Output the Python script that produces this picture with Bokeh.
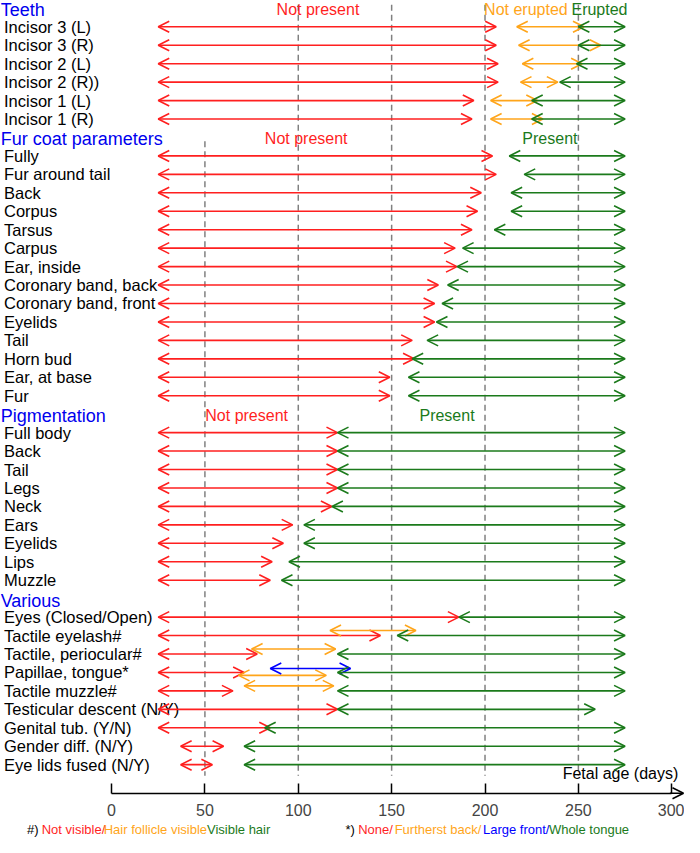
from bokeh.plotting import figure
from bokeh.models import ColumnDataSource, Range1d, LinearAxis, FixedTicker, Arrow, OpenHead
from bokeh.core.properties import value
from bokeh.embed import file_html
from bokeh.resources import INLINE

FONT = "Liberation Sans"
RED = "#ff1f1f"
ORANGE = "#ffa51a"
GREEN = "#1b7a1b"
BLUE = "#0000ff"
HEAD_BLUE = "#0000ee"

# ---------------- data ----------------
section_titles = ["Teeth", "Fur coat parameters", "Pigmentation", "Various"]

teeth_labels = ["Incisor 3 (L)", "Incisor 3 (R)", "Incisor 2 (L)", "Incisor 2 (R))",
                "Incisor 1 (L)", "Incisor 1 (R)"]
fur_labels = ["Fully", "Fur around tail", "Back", "Corpus", "Tarsus", "Carpus", "Ear, inside",
              "Coronary band, back", "Coronary band, front", "Eyelids", "Tail", "Horn bud",
              "Ear, at base", "Fur"]
pig_labels = ["Full body", "Back", "Tail", "Legs", "Neck", "Ears", "Eyelids", "Lips", "Muzzle"]
various_labels = ["Eyes (Closed/Open)", "Tactile eyelash#", "Tactile, periocular#",
                  "Papillae, tongue*", "Tactile muzzle#", "Testicular descent (N/Y)",
                  "Genital tub. (Y/N)", "Gender diff. (N/Y)", "Eye lids fused (N/Y)"]

# red = not present / not visible (fetal age, days)
teeth_red_start = [25, 25, 25, 25, 25, 25]
teeth_red_end = [206, 206, 207, 207, 194, 193]
fur_red_start = [25, 25, 25, 25, 25, 25, 25, 25, 25, 25, 25, 25, 25, 25]
fur_red_end = [204, 206, 198, 196, 193, 184, 185, 175, 173, 173, 161, 162, 149, 149]
pig_red_start = [25, 25, 25, 25, 25, 25, 25, 25, 25]
pig_red_end = [121, 121, 121, 121, 118, 97, 92, 86, 85]
various_red_start = [25, 25, 25, 25, 25, 25, 25, 37, 37]
various_red_end = [186, 144, 78, 71, 65, 121, 85, 60, 54]

# green = present / erupted / visible
teeth_green_start = [250, 250, 249, 240, 225, 225]
teeth_green_end = [275, 275, 275, 275, 275, 275]
fur_green_start = [213, 221, 214, 214, 205, 188, 185, 180, 177, 174, 169, 161, 159, 159]
fur_green_end = [275, 275, 275, 275, 275, 275, 275, 275, 275, 275, 275, 275, 275, 275]
pig_green_start = [121, 121, 121, 121, 118, 103, 103, 95, 91]
pig_green_end = [275, 275, 275, 275, 275, 275, 275, 275, 275]
various_green_start = [186, 153, 121, 121, 121, 121, 82, 71, 71]
various_green_end = [275, 275, 275, 275, 275, 259, 275, 275, 275]

# orange = not erupted / hair follicle visible / furthest back
teeth_orange_item = [0, 1, 2, 3, 4, 5]
teeth_orange_start = [217, 218, 220, 219, 203, 203]
teeth_orange_end = [253, 262, 252, 239, 228, 231]
various_orange_item = [1, 2, 3, 4]
various_orange_start = [117, 75, 68, 71]
various_orange_end = [163, 120, 115, 119]

# blue = large front (papillae)
various_blue_item = [3]
various_blue_start = [85]
various_blue_end = [128]

# header annotations
annot_section = [0, 0, 0, 1, 1, 2, 2]
annot_text = ["Not present", "Not erupted", "Erupted", "Not present", "Present",
              "Not present", "Present"]
annot_color = [RED, ORANGE, GREEN, RED, GREEN, RED, GREEN]

ref_lines = [50, 100, 150, 200, 250]
axis_ticks = [0, 50, 100, 150, 200, 250, 300]

# ---------------- layout constants ----------------
annot_x = [88.4, 199.5, 246.3, 82.1, 220.0, 50.2, 164.9]
ref_line_top = [7.2, -0.2, -0.2, -0.2, -0.2]
ref_line_bottom = 41.6
various_orange_dy = [-0.27, -0.27, 0.16, -0.27]
various_blue_dy = [-0.21]
AXIS_ROW = 42.55
HEADER_X = -59.4
ITEM_X = -57.6

# ---------------- figure ----------------
p = figure(width=684, height=837, x_range=Range1d(-59.47, 306.83),
           y_range=Range1d(44.948, -0.4255), output_backend="svg",
           toolbar_location=None, x_axis_type=None, y_axis_type=None, min_border=0)
p.outline_line_color = None
p.background_fill_color = "white"

sections = [
    (teeth_labels, teeth_red_start, teeth_red_end, teeth_green_start, teeth_green_end),
    (fur_labels, fur_red_start, fur_red_end, fur_green_start, fur_green_end),
    (pig_labels, pig_red_start, pig_red_end, pig_green_start, pig_green_end),
    (various_labels, various_red_start, various_red_end, various_green_start, various_green_end),
]

header_rows = []
item_rows_by_section = []
lab_x, lab_y, lab_t = [], [], []
red = dict(x0=[], x1=[], y=[])
green = dict(x0=[], x1=[], y=[])
row = 0
for labels, rs, re_, gs, ge in sections:
    header_rows.append(row)
    row += 1
    rows = []
    for i, lab in enumerate(labels):
        rows.append(row)
        lab_x.append(ITEM_X); lab_y.append(row); lab_t.append(lab)
        red["x0"].append(rs[i]); red["x1"].append(re_[i]); red["y"].append(row)
        green["x0"].append(gs[i]); green["x1"].append(ge[i]); green["y"].append(row)
        row += 1
    item_rows_by_section.append(rows)

orange = dict(x0=[], x1=[], y=[])
for k, i in enumerate(teeth_orange_item):
    orange["x0"].append(teeth_orange_start[k]); orange["x1"].append(teeth_orange_end[k])
    orange["y"].append(item_rows_by_section[0][i])
for k, i in enumerate(various_orange_item):
    orange["x0"].append(various_orange_start[k]); orange["x1"].append(various_orange_end[k])
    orange["y"].append(item_rows_by_section[3][i] + various_orange_dy[k])
blue = dict(x0=[], x1=[], y=[])
for k, i in enumerate(various_blue_item):
    blue["x0"].append(various_blue_start[k]); blue["x1"].append(various_blue_end[k])
    blue["y"].append(item_rows_by_section[3][i] + various_blue_dy[k])

# dashed reference lines
p.segment(x0=ref_lines, x1=ref_lines, y0=ref_line_top,
          y1=[ref_line_bottom] * len(ref_lines), line_color="#808080",
          line_width=1.5, line_dash="6 4")

# labels
p.text(x=lab_x, y=lab_y, text=lab_t, text_font=value(FONT), text_font_size=value("16.5px"),
       text_baseline="middle", text_align="left", text_color="black")
p.text(x=[HEADER_X] * len(section_titles), y=header_rows, text=section_titles,
       text_font=value(FONT), text_font_size=value("18px"), text_baseline="middle",
       text_align="left", text_color=HEAD_BLUE, y_offset=2)
p.text(x=annot_x, y=[header_rows[s] for s in annot_section], text=annot_text,
       text_color=annot_color, text_font=value(FONT), text_font_size=value("16px"),
       text_baseline="middle", text_align="left", y_offset=1)


def add_arrows(d, color):
    src = ColumnDataSource(d)
    p.add_layout(Arrow(start=OpenHead(size=11, line_color=color, line_width=1.6),
                       end=OpenHead(size=11, line_color=color, line_width=1.6),
                       x_start="x0", y_start="y", x_end="x1", y_end="y",
                       line_color=color, line_width=1.6, source=src))


add_arrows(red, RED)
add_arrows(orange, ORANGE)
add_arrows(blue, BLUE)
add_arrows(green, GREEN)

# axis
ax = LinearAxis(fixed_location=AXIS_ROW, ticker=FixedTicker(ticks=axis_ticks), bounds=(0, 300))
ax.major_tick_in = 10
ax.major_tick_out = 0
ax.minor_tick_line_color = None
ax.axis_line_width = 1.5
ax.major_tick_line_width = 1.5
ax.major_label_text_font = FONT
ax.major_label_text_font_size = "16px"
ax.major_label_standoff = 11
p.add_layout(ax, "below")
p.add_layout(Arrow(end=OpenHead(size=11, line_color="black", line_width=1.5), start=None,
                   x_start=299, x_end=306.3, y_start=AXIS_ROW, y_end=AXIS_ROW,
                   line_color="black", line_width=1.5))

p.text(x=[241.6], y=[41.5], text=["Fetal age (days)"], text_font=value(FONT),
       text_font_size=value("16px"), text_baseline="middle", text_align="left",
       text_color="black")

# footnotes
foot_text = ["#)", "Not visible/", "Hair follicle visible", "Visible hair",
             "*)", "None/", "Furtherst back/", "Large front/", "Whole tongue"]
foot_color = ["black", RED, ORANGE, GREEN, "black", RED, ORANGE, BLUE, GREEN]
foot_x = [-45.3, -37.4, -4.2, 51.1, 125.3, 132.1, 151.6, 198.9, 234.2]
p.text(x=foot_x, y=[44.5] * len(foot_x), text=foot_text, text_color=foot_color,
       text_font=value(FONT), text_font_size=value("13px"), text_baseline="middle",
       text_align="left")

open("out.html", "w").write(file_html(p, INLINE))
